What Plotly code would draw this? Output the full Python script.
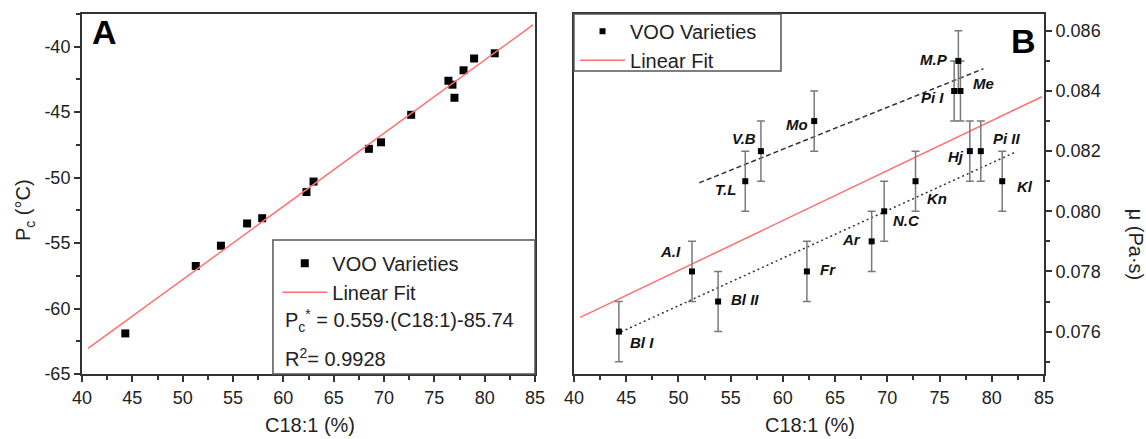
import numpy as np
import plotly.graph_objects as go

# Olive oil varieties: oleic acid content, pour point (A) and viscosity (B)
varieties = ["Bl I", "A.I", "Bl II", "T.L", "V.B", "Fr", "Mo", "Ar", "N.C", "Kn",
             "Pi I", "M.P", "Me", "Hj", "Pi II", "Kl"]
c18_1 = [44.3, 51.3, 53.8, 56.4, 57.9, 62.3, 63.0, 68.5, 69.7, 72.7,
         76.4, 76.8, 77.0, 77.9, 78.95, 81.0]
pour_point = [-61.9, -56.75, -55.2, -53.5, -53.1, -51.1, -50.3, -47.8, -47.3, -45.2,
              -42.6, -42.9, -43.9, -41.8, -40.9, -40.5]
viscosity = [0.076, 0.078, 0.077, 0.081, 0.082, 0.078, 0.083, 0.079, 0.080, 0.081,
             0.084, 0.085, 0.084, 0.082, 0.082, 0.081]
viscosity_err = [0.001] * 16
group = ["low", "low", "low", "high", "high", "low", "high", "low", "low", "low",
         "high", "high", "high", "low", "low", "low"]

# Tick labels of the pour point axis (plain hyphen minus)
pc_ticks = [-65, -60, -55, -50, -45, -40]
pc_ticklabels = ["-65", "-60", "-55", "-50", "-45", "-40"]

# Pour point regression reported in panel A
fit_slope, fit_intercept = 0.559, -85.74
r_squared = 0.9928

FONT = "Liberation Sans, Arial, sans-serif"
AXIS_COLOR = "#333333"

# Label placement for panel B: (xanchor, xshift, yshift)
label_style = [("left", 9, -11), ("right", -9, 20), ("left", 11, 2), ("right", -7, -8),
               ("right", -3, 13), ("left", 11, 2), ("right", -4, -3), ("right", -9, 2),
               ("left", 7, -9), ("left", 9, -17), ("right", -8, -7), ("right", -8, 1),
               ("left", 11, 7), ("right", -4, -5), ("left", 10, 13), ("left", 13, -5)]

x = np.array(c18_1)
mu = np.array(viscosity)

fig = go.Figure()

# ---- Panel A ----
xa = np.array([40.6, 84.8])
fig.add_trace(go.Scatter(
    x=c18_1, y=pour_point, mode="markers", name="VOO Varieties",
    marker=dict(symbol="square", size=8, color="black"),
    xaxis="x", yaxis="y", legend="legend", showlegend=True))
fig.add_trace(go.Scatter(
    x=xa, y=fit_slope * xa + fit_intercept, mode="lines", name="Linear Fit",
    line=dict(color="#ff7070", width=1.5),
    xaxis="x", yaxis="y", legend="legend", showlegend=True))

# ---- Panel B ----
sb, ib = np.polyfit(x, mu, 1)
xb = np.array([40.6, 84.8])
hi = np.array([g == "high" for g in group])
sh, ih = np.polyfit(x[hi], mu[hi], 1)
sl, il = np.polyfit(x[~hi], mu[~hi], 1)
xh = np.array([52.0, 79.2])
xl = np.array([44.5, 82.4])

fig.add_trace(go.Scatter(
    x=xh, y=sh * xh + ih, mode="lines", showlegend=False,
    line=dict(color="#333333", width=1.5, dash="5px,3px"), xaxis="x2", yaxis="y2"))
fig.add_trace(go.Scatter(
    x=xl, y=sl * xl + il, mode="lines", showlegend=False,
    line=dict(color="#333333", width=1.5, dash="2px,3px"), xaxis="x2", yaxis="y2"))
fig.add_trace(go.Scatter(
    x=xb, y=sb * xb + ib, mode="lines", name="Linear Fit",
    line=dict(color="#ff7070", width=1.5),
    xaxis="x2", yaxis="y2", legend="legend2", showlegend=True, legendrank=2))
fig.add_trace(go.Scatter(
    x=c18_1, y=viscosity, mode="markers", name="VOO Varieties",
    marker=dict(symbol="square", size=6, color="black"),
    error_y=dict(type="data", array=viscosity_err, visible=True,
                 color="#7a7a7a", thickness=1.5, width=4),
    xaxis="x2", yaxis="y2", legend="legend2", showlegend=True, legendrank=1))

annotations = []
for name, xv, yv, (anc, dx, dy) in zip(varieties, c18_1, viscosity, label_style):
    annotations.append(dict(
        x=xv, y=yv, xref="x2", yref="y2", text=f"<b><i>{name}</i></b>",
        showarrow=False, xanchor=anc, yanchor="middle", xshift=dx, yshift=dy,
        font=dict(family=FONT, size=15, color="#111111")))


def paper_text(px, py, text, size=20, anchor="center", angle=0, color="#222"):
    return dict(x=px, y=py, xref="paper", yref="paper", text=text, textangle=angle,
                xanchor=anchor, yanchor="middle", showarrow=False,
                font=dict(family=FONT, size=size, color=color))


annotations += [
    paper_text(0.237, -0.142, "C18:1 (%)"),
    paper_text(0.757, -0.142, "C18:1 (%)"),
    paper_text(-0.059, 0.456, "P<sub>c</sub> (°C)", angle=-90),
    paper_text(1.095, 0.358, "μ (Pa·s)", angle=90),
    paper_text(0.0229, 0.95, "<b>A</b>", size=34, color="black"),
    paper_text(0.979, 0.925, "<b>B</b>", size=34, color="black"),
    paper_text(0.2089, 0.15,
               f"P<sub>c</sub><sup>*</sup> = {fit_slope}·(C18:1)-{abs(fit_intercept)}",
               size=20, anchor="left"),
    paper_text(0.2089, 0.047, f"R<sup>2</sup>= {r_squared}", size=20, anchor="left"),
]

shapes = [
    dict(type="rect", xref="paper", yref="paper", x0=0.1985, x1=0.4709, y0=0, y1=0.3722,
         line=dict(color="#555555", width=1.5)),
    dict(type="rect", xref="paper", yref="paper", x0=0.5114, x1=0.7266, y0=0.8417, y1=1.0,
         line=dict(color="#555555", width=1.5)),
]

axis_common = dict(showgrid=False, zeroline=False, showline=True, mirror=True,
                   linecolor=AXIS_COLOR, linewidth=2, ticks="outside", ticklen=6,
                   tickwidth=1.5, tickcolor=AXIS_COLOR,
                   tickfont=dict(family=FONT, size=18, color="#222"))

fig.update_layout(
    width=1146, height=439,
    margin=dict(l=82, r=102, t=14, b=65),
    paper_bgcolor="white", plot_bgcolor="white",
    xaxis=dict(domain=[0, 0.4709], range=[40, 85], dtick=5, tick0=40, anchor="y",
               minor=dict(ticks="outside", ticklen=4, dtick=2.5, tickcolor=AXIS_COLOR),
               **axis_common),
    yaxis=dict(domain=[0, 1], range=[-65, -37.5], tickvals=pc_ticks,
               ticktext=pc_ticklabels, anchor="x",
               minor=dict(ticks="outside", ticklen=4, dtick=2.5, tickcolor=AXIS_COLOR),
               **axis_common),
    xaxis2=dict(domain=[0.5114, 1], range=[40, 85], dtick=5, tick0=40, anchor="y2",
                minor=dict(ticks="outside", ticklen=4, dtick=2.5, tickcolor=AXIS_COLOR),
                **axis_common),
    yaxis2=dict(domain=[0, 1], range=[0.07459, 0.08656], dtick=0.002, tick0=0.076,
                tickformat=".3f", side="right", anchor="x2",
                minor=dict(ticks="outside", ticklen=4, dtick=0.001, tickcolor=AXIS_COLOR),
                **axis_common),
    legend=dict(x=0.203, y=0.362, xanchor="left", yanchor="top",
                bgcolor="rgba(0,0,0,0)", borderwidth=0, itemwidth=45,
                font=dict(family=FONT, size=20, color="#222"), tracegroupgap=0),
    legend2=dict(x=0.5125, y=1.006, xanchor="left", yanchor="top",
                 bgcolor="rgba(0,0,0,0)", borderwidth=0, itemwidth=45,
                 font=dict(family=FONT, size=20, color="#222"), tracegroupgap=0),
    annotations=annotations,
    shapes=shapes,
)

fig.write_html("out.html")
